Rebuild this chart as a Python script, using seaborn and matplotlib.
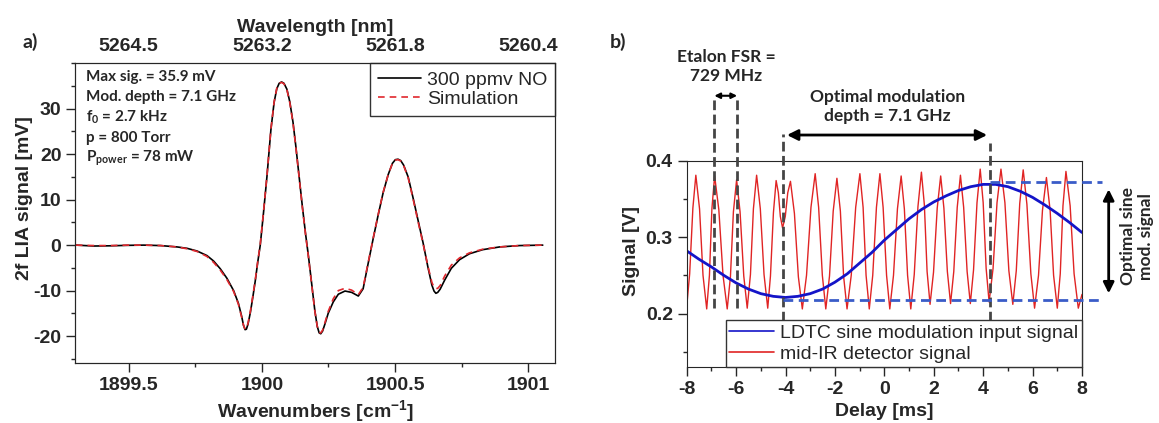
import numpy as np
import pandas as pd
import seaborn as sns
import matplotlib.pyplot as plt
from matplotlib.ticker import MultipleLocator

# ---- panel a: 2f WMS spectrum ----
wavenumber = [1899.302, 1899.370, 1899.433, 1899.495, 1899.557, 1899.620, 1899.682, 1899.719,
              1899.757, 1899.794, 1899.819, 1899.844, 1899.869, 1899.894, 1899.912, 1899.924,
              1899.931, 1899.937, 1899.942, 1899.948, 1899.957, 1899.966, 1899.975, 1899.984,
              1899.994, 1900.006, 1900.019, 1900.034, 1900.046, 1900.056, 1900.065, 1900.074,
              1900.083, 1900.094, 1900.105, 1900.117, 1900.128, 1900.140, 1900.152, 1900.164,
              1900.175, 1900.188, 1900.199, 1900.208, 1900.215, 1900.221, 1900.228, 1900.237,
              1900.249, 1900.268, 1900.287, 1900.312, 1900.337, 1900.362, 1900.380, 1900.399,
              1900.418, 1900.436, 1900.455, 1900.474, 1900.490, 1900.501, 1900.511, 1900.521,
              1900.532, 1900.549, 1900.567, 1900.586, 1900.605, 1900.623, 1900.638, 1900.646,
              1900.653, 1900.660, 1900.669, 1900.686, 1900.711, 1900.742, 1900.779, 1900.829,
              1900.892, 1900.966, 1901.054]
sig_meas = [0.0, -0.2, -0.15, -0.05, 0.0, -0.1, -0.4, -0.7,
            -1.3, -2.3, -3.5, -5.2, -7.3, -10.0, -12.8, -15.6,
            -17.6, -18.6, -18.5, -17.4, -14.8, -11.5, -8.0, -4.0,
            0.0, 7.0, 15.0, 25.4, 31.4, 34.4, 35.6, 35.9,
            35.6, 34.3, 31.5, 27.0, 21.5, 15.0, 8.5, 2.5,
            -2.5, -9.0, -14.5, -17.9, -19.3, -19.5, -18.9, -17.3,
            -15.0, -12.5, -10.8, -10.1, -10.4, -11.2, -9.6, -4.0,
            1.5, 6.5, 11.5, 15.5, 18.0, 18.8, 18.9, 18.6,
            17.6, 15.0, 10.5, 5.5, 0.5, -4.8, -8.8, -10.1,
            -10.6, -10.4, -9.7, -7.7, -5.1, -3.2, -1.9, -1.0,
            -0.4, -0.1, 0.0]
sig_sim = [0.0, -0.1, -0.1, 0.0, 0.0, -0.1, -0.4, -0.8,
           -1.4, -2.5, -3.8, -5.5, -7.6, -10.2, -13.0, -15.8,
           -17.6, -18.5, -18.4, -17.2, -14.5, -11.2, -7.8, -3.8,
           0.2, 7.2, 15.2, 25.5, 31.5, 34.5, 35.6, 35.8,
           35.5, 34.2, 31.3, 26.8, 21.3, 14.8, 8.3, 2.3,
           -2.7, -9.2, -14.6, -17.9, -19.2, -19.3, -18.7, -17.0,
           -14.6, -11.8, -10.0, -9.5, -9.9, -10.9, -9.3, -3.8,
           1.6, 6.6, 11.6, 15.5, 18.0, 18.7, 18.8, 18.5,
           17.5, 14.8, 10.3, 5.2, 0.3, -4.6, -8.2, -9.3,
           -9.6, -9.5, -8.9, -6.8, -4.4, -2.8, -1.7, -0.9,
           -0.4, -0.1, 0.0]
wn_ticks = [1899.5, 1900.0, 1900.5, 1901.0]
wn_labels = ['1899.5', '1900', '1900.5', '1901']
wl_labels = ['5264.5', '5263.2', '5261.8', '5260.4']
info_lines = ['Max sig. = 35.9 mV', 'Mod. depth = 7.1 GHz', 'f$_0$ = 2.7 kHz',
              'p = 800 Torr', 'P$_{power}$ = 78 mW']

# ---- panel b: detector signal vs. delay ----
red_t = [-8.00, -7.88, -7.75, -7.63, -7.48, -7.34, -7.19, -7.08, -6.98, -6.87, -6.70, -6.53,
         -6.36, -6.23, -6.11, -5.98, -5.84, -5.69, -5.55, -5.42, -5.30, -5.17, -5.02, -4.87,
         -4.72, -4.61, -4.49, -4.38, -4.29, -4.21, -4.12, -4.01, -3.91, -3.80, -3.64, -3.48,
         -3.32, -3.15, -2.97, -2.80, -2.66, -2.51, -2.37, -2.22, -2.07, -1.92, -1.78, -1.65,
         -1.51, -1.34, -1.16, -0.99, -0.86, -0.74, -0.61, -0.47, -0.32, -0.18, -0.05, 0.09,
         0.22, 0.37, 0.53, 0.68, 0.81, 0.94, 1.07, 1.21, 1.36, 1.50, 1.62, 1.73,
         1.85, 1.99, 2.14, 2.28, 2.41, 2.55, 2.68, 2.81, 2.95, 3.08, 3.21, 3.35,
         3.48, 3.61, 3.75, 3.88, 4.00, 4.12, 4.24, 4.40, 4.56, 4.72, 4.88, 5.04,
         5.20, 5.34, 5.48, 5.62, 5.77, 5.93, 6.08, 6.24, 6.40, 6.56, 6.71, 6.85,
         7.00, 7.12, 7.23, 7.35, 7.52, 7.68, 7.85, 8.00]
red_v = [0.209, 0.252, 0.338, 0.381, 0.337, 0.250, 0.206, 0.250, 0.337, 0.380, 0.336, 0.250,
         0.206, 0.248, 0.333, 0.375, 0.333, 0.249, 0.207, 0.251, 0.337, 0.381, 0.337, 0.251,
         0.207, 0.249, 0.332, 0.374, 0.358, 0.327, 0.312, 0.327, 0.358, 0.373, 0.331, 0.248,
         0.206, 0.250, 0.339, 0.383, 0.339, 0.250, 0.206, 0.249, 0.334, 0.377, 0.334, 0.249,
         0.206, 0.250, 0.339, 0.383, 0.339, 0.250, 0.206, 0.250, 0.339, 0.383, 0.339, 0.250,
         0.206, 0.250, 0.337, 0.380, 0.337, 0.250, 0.206, 0.251, 0.340, 0.385, 0.342, 0.255,
         0.212, 0.254, 0.338, 0.380, 0.338, 0.255, 0.213, 0.255, 0.339, 0.381, 0.339, 0.255,
         0.213, 0.257, 0.345, 0.389, 0.345, 0.259, 0.215, 0.259, 0.345, 0.389, 0.345, 0.256,
         0.212, 0.256, 0.344, 0.388, 0.343, 0.252, 0.207, 0.250, 0.335, 0.378, 0.335, 0.250,
         0.207, 0.252, 0.341, 0.386, 0.341, 0.252, 0.207, 0.225]
blue_t = [-8, -7.5, -7, -6.5, -6, -5.5, -5, -4.5, -4, -3.5, -3, -2.5, -2, -1.5, -1, -0.5,
          0, 0.5, 1, 1.5, 2, 2.5, 3, 3.5, 4, 4.5, 5, 5.5, 6, 6.5, 7, 7.5, 8]
blue_v = [0.282, 0.271, 0.261, 0.250, 0.240, 0.232, 0.226, 0.2225, 0.221, 0.2225, 0.226,
          0.232, 0.241, 0.252, 0.266, 0.280, 0.296, 0.310, 0.324, 0.336, 0.346, 0.354,
          0.361, 0.366, 0.369, 0.369, 0.366, 0.360, 0.352, 0.342, 0.331, 0.319, 0.306]
delay_ticks = [-8, -6, -4, -2, 0, 2, 4, 6, 8]
signal_ticks = [0.2, 0.3, 0.4]
signal_labels = ['0.2', '0.3', '0.4']
# annotation geometry (data units)
fsr_lines = [-6.88, -5.96]
depth_lines = [-4.09, 4.26]
level_hi, level_lo = 0.3727, 0.2176

sns.set_style('ticks')
plt.rcParams['font.family'] = ['Liberation Sans', 'DejaVu Sans']
plt.rcParams['font.weight'] = 'bold'
plt.rcParams['axes.labelweight'] = 'bold'
plt.rcParams['mathtext.default'] = 'regular'
plt.rcParams['axes.unicode_minus'] = False

W, H = 1159, 423
fig = plt.figure(figsize=(W / 100, H / 100), dpi=100)
ax1 = fig.add_axes([75.3 / W, 1 - 363.3 / H, (555 - 75.3) / W, 300 / H])
ax2 = fig.add_axes([686.7 / W, 1 - 367 / H, (1082 - 686.7) / W, (367 - 160.7) / H])

lab_font = dict(family=['Lato', 'DejaVu Sans'], weight='bold')
leg_font = dict(family='Liberation Sans', weight='normal', size=14)

# panel a
df_a = pd.DataFrame({'wn': wavenumber, 'meas': sig_meas, 'sim': sig_sim})
sns.lineplot(data=df_a, x='wn', y='meas', color='black', lw=1.2, label='300 ppmv NO', ax=ax1)
sns.lineplot(data=df_a, x='wn', y='sim', color='#e0282e', lw=1.2, linestyle=(0, (4, 3)),
             label='Simulation', ax=ax1)
ax1.set_xlim(1899.3, 1901.1)
ax1.set_ylim(-26, 40)
ax1.set_xticks(wn_ticks)
ax1.set_xticklabels(wn_labels)
ax1.set_yticks([-20, -10, 0, 10, 20, 30])
ax1.xaxis.set_minor_locator(MultipleLocator(0.25))
ax1.yaxis.set_minor_locator(MultipleLocator(5))
ax1.tick_params(which='major', length=6.5, width=1, labelsize=14, pad=3.5)
ax1.tick_params(which='minor', length=3, width=1)
ax1.set_xlabel('Wavenumbers [cm$^{-1}$]', fontsize=14)
ax1.xaxis.set_label_coords(0.5, -0.115)
ax1.set_ylabel('2f LIA signal [mV]', fontsize=14)
ax1.yaxis.set_label_coords(-0.088, 0.55)
leg = ax1.legend(loc='upper right', bbox_to_anchor=(1, 1), borderaxespad=0, fancybox=False,
                 edgecolor='#333333', framealpha=1, prop=leg_font, handlelength=2.2,
                 handletextpad=0.3, borderpad=0.4, labelspacing=0.1)
leg.get_frame().set_linewidth(1.0)
for i, line in enumerate(info_lines):
    ax1.text(0.0223, 0.955 - i * 0.068, line, transform=ax1.transAxes, ha='left',
             va='center', fontsize=11, **lab_font)

ax1t = ax1.twiny()
ax1t.set_xlim(ax1.get_xlim())
ax1t.set_xticks(wn_ticks)
ax1t.set_xticklabels(wl_labels)
ax1t.tick_params(axis='x', length=0, pad=6, labelsize=14)
ax1t.set_xlabel('Wavelength [nm]', fontsize=14)
ax1t.xaxis.set_label_coords(0.5, 1.105)
fig.text(30 / W, 1 - 42 / H, 'a)', ha='center', va='center', fontsize=14, **lab_font)

# panel b
df_red = pd.DataFrame({'t': red_t, 'v': red_v})
df_blue = pd.DataFrame({'t': blue_t, 'v': blue_v})
sns.lineplot(data=df_red, x='t', y='v', color='#e02424', lw=1.0,
             label='mid-IR detector signal', ax=ax2)
sns.lineplot(data=df_blue, x='t', y='v', color='#1414c8', lw=2.0,
             label='LDTC sine modulation input signal', ax=ax2)
ax2.set_xlim(-8, 8)
ax2.set_ylim(0.13, 0.4)
ax2.set_xticks(delay_ticks)
ax2.set_yticks(signal_ticks)
ax2.set_yticklabels(signal_labels)
ax2.xaxis.set_minor_locator(MultipleLocator(1))
ax2.yaxis.set_minor_locator(MultipleLocator(0.05))
ax2.tick_params(which='major', length=6.5, width=1, labelsize=14, pad=3.5)
ax2.tick_params(which='minor', length=3, width=1)
ax2.set_xlabel('Delay [ms]', fontsize=14)
ax2.xaxis.set_label_coords(0.5, -0.175)
ax2.set_ylabel('Signal [V]', fontsize=14)
ax2.yaxis.set_label_coords(-0.118, 0.56)

gray = '#454545'
dash_kw = dict(color=gray, lw=2.0, linestyle=(0, (3.5, 1.6)), clip_on=False, zorder=3)
for x0 in fsr_lines:
    ax2.plot([x0, x0], [0.207, 0.483], **dash_kw)
ax2.plot([depth_lines[0]] * 2, [0.19, 0.435], **dash_kw)
ax2.plot([depth_lines[1]] * 2, [0.19, 0.423], **dash_kw)
hdash = dict(color='#3a5cc8', lw=2.0, linestyle=(0, (3.5, 2)), clip_on=False, zorder=3)
ax2.plot([depth_lines[1], 8.79], [level_hi, level_hi], **hdash)
ax2.plot([depth_lines[0], 8.79], [level_lo, level_lo], **hdash)

arrow = dict(arrowstyle='<|-|>', color='black', lw=2, shrinkA=0, shrinkB=0)
ax2.annotate('', xy=(fsr_lines[1], 0.485), xytext=(fsr_lines[0], 0.485),
             arrowprops=dict(arrow, mutation_scale=8, lw=1.5), annotation_clip=False)
ax2.annotate('', xy=(depth_lines[1] - 0.1, 0.4336), xytext=(depth_lines[0] + 0.15, 0.4336),
             arrowprops=dict(arrow, mutation_scale=16), annotation_clip=False)
ax2.annotate('', xy=(9.08, 0.3626), xytext=(9.08, 0.2264),
             arrowprops=dict(arrow, mutation_scale=16), annotation_clip=False)
ax2.text(-6.39, 0.523, 'Etalon FSR =\n729 MHz', ha='center', va='center', fontsize=12.5,
         linespacing=1.25, **lab_font)
ax2.text(0.13, 0.4712, 'Optimal modulation\ndepth = 7.1 GHz', ha='center', va='center',
         fontsize=12.5, linespacing=1.25, **lab_font)
ax2.text(10.23, 0.301, 'Optimal sine\nmod. signal', ha='center', va='center', rotation=90,
         fontsize=12.5, linespacing=1.2, **lab_font)

h, l = ax2.get_legend_handles_labels()
leg2 = ax2.legend(h[::-1], l[::-1], loc='lower right', bbox_to_anchor=(1, 0), borderaxespad=0,
                  fancybox=False, edgecolor='#333333', framealpha=1, prop=leg_font,
                  handlelength=2.3, handletextpad=0.3, borderpad=0.2, labelspacing=0.2)
leg2.get_frame().set_linewidth(1.0)
for hl in leg2.get_lines():
    hl.set_linewidth(1.2)
leg2.set_zorder(10)
fig.text(618 / W, 1 - 42 / H, 'b)', ha='center', va='center', fontsize=14, **lab_font)

fig.savefig('out.png', dpi=100)
